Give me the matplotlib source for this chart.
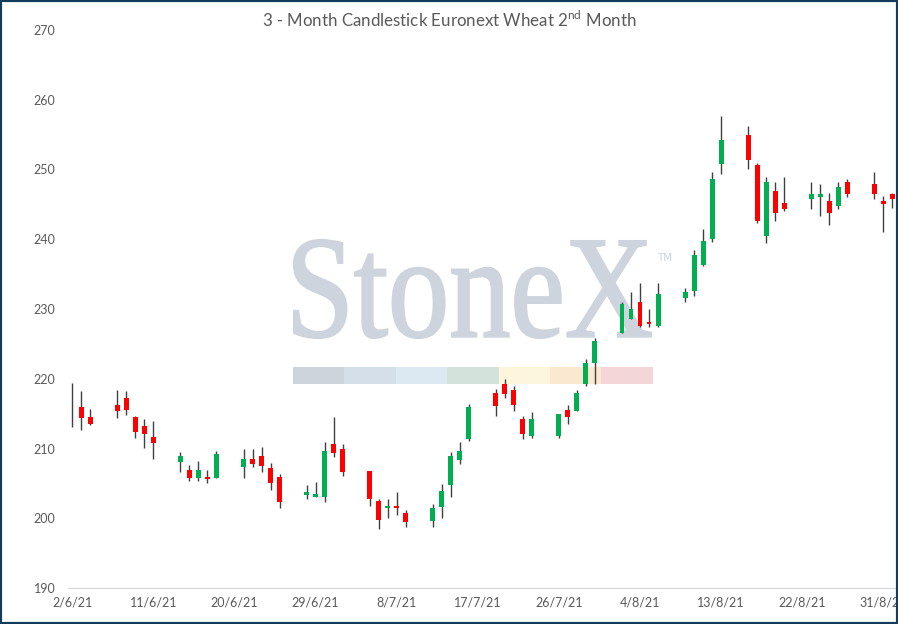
import matplotlib
matplotlib.use('Agg')
import matplotlib.pyplot as plt
import matplotlib.dates as mdates
import numpy as np
import pandas as pd
from matplotlib.textpath import TextPath
from matplotlib.font_manager import FontProperties
from matplotlib.patches import PathPatch, Rectangle
from matplotlib.transforms import Affine2D
from matplotlib.path import Path

plt.rcParams['font.family'] = ['Lato', 'DejaVu Sans']
plt.rcParams['mathtext.fontset'] = 'custom'
plt.rcParams['mathtext.rm'] = 'Lato'

# daily OHLC
dates = ['2021-06-02', '2021-06-03', '2021-06-04', '2021-06-07', '2021-06-08', '2021-06-09',
         '2021-06-10', '2021-06-11', '2021-06-14', '2021-06-15', '2021-06-16', '2021-06-17',
         '2021-06-18', '2021-06-21', '2021-06-22', '2021-06-23', '2021-06-24', '2021-06-25',
         '2021-06-28', '2021-06-29', '2021-06-30', '2021-07-01', '2021-07-02', '2021-07-05',
         '2021-07-06', '2021-07-07', '2021-07-08', '2021-07-09', '2021-07-12', '2021-07-13',
         '2021-07-14', '2021-07-15', '2021-07-16', '2021-07-19', '2021-07-20', '2021-07-21',
         '2021-07-22', '2021-07-23', '2021-07-26', '2021-07-27', '2021-07-28', '2021-07-29',
         '2021-07-30', '2021-08-02', '2021-08-03', '2021-08-04', '2021-08-05', '2021-08-06',
         '2021-08-09', '2021-08-10', '2021-08-11', '2021-08-12', '2021-08-13', '2021-08-16',
         '2021-08-17', '2021-08-18', '2021-08-19', '2021-08-20', '2021-08-23', '2021-08-24',
         '2021-08-25', '2021-08-26', '2021-08-27', '2021-08-30', '2021-08-31', '2021-09-01']
opens = [216.5, 216.0, 214.5, 216.2, 217.2, 214.5, 213.2, 211.65, 208.1, 206.9, 205.8, 205.9,
         205.8, 207.4, 208.5, 208.9, 207.2, 205.9, 203.4, 203.1, 203.1, 210.65, 209.9, 206.8,
         202.5, 201.4, 201.8, 200.7, 199.65, 201.65, 204.8, 208.4, 211.4, 218.0, 219.2, 218.4,
         214.2, 211.8, 211.8, 215.5, 215.4, 219.3, 222.3, 226.6, 228.6, 231.0, 228.2, 227.6,
         231.6, 232.6, 236.3, 240.1, 250.8, 254.95, 250.6, 240.4, 246.9, 245.2, 245.8, 246.1,
         245.5, 244.8, 248.2, 247.9, 245.5, 246.5]
highs = [219.35, 218.2, 215.6, 218.4, 218.25, 214.66, 214.2, 213.9, 209.45, 207.6, 208.2, 206.9,
         209.6, 209.9, 209.9, 210.2, 207.9, 206.4, 204.7, 205.15, 210.9, 214.5, 210.6, 206.8,
         202.7, 202.7, 203.7, 201.2, 202.1, 204.9, 209.45, 210.9, 216.4, 218.6, 219.9, 219.0,
         214.66, 215.2, 215.0, 216.3, 218.4, 222.9, 225.9, 231.05, 232.4, 233.7, 229.95, 233.7,
         233.0, 238.5, 241.5, 249.6, 257.7, 256.2, 250.9, 248.9, 248.2, 248.9, 248.2, 247.9,
         246.6, 248.2, 248.6, 249.6, 246.2, 246.6]
lows = [213.1, 212.6, 213.4, 214.4, 214.8, 211.55, 210.1, 208.5, 206.7, 205.4, 205.4, 205.1,
        205.8, 205.8, 207.4, 206.7, 204.1, 201.4, 202.8, 203.0, 202.4, 208.8, 206.1, 201.8,
        198.4, 200.1, 200.4, 198.8, 198.8, 200.1, 203.1, 207.8, 211.1, 214.6, 217.3, 215.4,
        211.4, 211.55, 211.5, 213.55, 215.4, 218.9, 219.3, 226.6, 228.6, 227.4, 227.4, 227.4,
        231.05, 231.9, 236.1, 239.65, 249.4, 250.1, 242.4, 239.4, 242.65, 244.1, 244.4, 243.4,
        242.1, 244.4, 246.1, 245.8, 241.1, 244.5]
closes = [216.5, 214.4, 213.55, 215.4, 215.5, 212.4, 212.1, 210.8, 208.9, 205.8, 206.9, 205.6,
          209.2, 208.5, 207.8, 207.5, 205.1, 202.4, 203.8, 203.5, 209.6, 209.4, 206.7, 202.8,
          199.8, 201.8, 201.5, 199.4, 201.5, 203.9, 208.9, 209.6, 215.95, 216.1, 217.85, 216.3,
          212.1, 214.2, 214.95, 214.55, 218.0, 222.26, 225.45, 230.7, 230.0, 227.6, 227.9, 232.15,
          232.4, 237.74, 239.7, 248.6, 254.2, 251.4, 242.65, 248.2, 243.7, 244.4, 246.5, 246.5,
          243.8, 247.5, 246.5, 246.5, 245.1, 245.8]

y_ticks = [190, 200, 210, 220, 230, 240, 250, 260, 270]

W, H = 898, 624
fig = plt.figure(figsize=(W / 100, H / 100), dpi=100)
fig.patch.set_facecolor('white')

# axes placed in pixels: left 67.8, right 898, y 190 at 588 and 270 at 30
ax = fig.add_axes([67.8 / W, (H - 588) / H, (W - 67.8) / W, 558 / H])
ax.set_facecolor('none')

tr_px = Affine2D().scale(1 / W, 1 / H) + fig.transFigure

# StoneX watermark behind the candles
wm_col = '#cdd4dd'
tp = TextPath((0, 0), 'StoneX', size=100, prop=FontProperties(family='Liberation Serif'))
ext = tp.get_extents()
sx = (651 - 294) / ext.width
sy = (338 - 240) / ext.height
verts = tp.vertices.copy()
verts[:, 0] = 294 + (verts[:, 0] - ext.x0) * sx
verts[:, 1] = (H - 338) + (verts[:, 1] - ext.y0) * sy
wm_path = Path(verts, tp.codes)
fig.add_artist(PathPatch(wm_path, facecolor=wm_col, edgecolor=wm_col, lw=1.6,
                         transform=tr_px, zorder=-5))
fig.text(657 / W, 1 - 261 / H, 'TM', fontsize=7.5, color=wm_col, zorder=-5, family='DejaVu Sans')

strip_cols = ['#ced4dc', '#d5dfe9', '#dde9f2', '#d3e2da', '#fbf6dc', '#fbe8d0', '#f2d6d8']
edges = np.linspace(293, 652.7, len(strip_cols) + 1)
for i, col in enumerate(strip_cols):
    fig.add_artist(Rectangle((edges[i], H - 384), edges[i + 1] - edges[i], 17,
                             facecolor=col, edgecolor='none', transform=tr_px, zorder=-5))

# candles
x = mdates.date2num(pd.to_datetime(dates))
o = np.array(opens)
c = np.array(closes)
colors = ['#00b050' if cc >= oo else '#ff0000' for oo, cc in zip(o, c)]
ax.vlines(x, lows, highs, color='#404040', lw=1.0, zorder=2)
ax.bar(x, c - o, bottom=o, width=0.55, color=colors, zorder=3)

d0 = x[0]
ax.set_xlim(d0 - 0.5, d0 + 91.63)
ax.set_ylim(190, 270)

tick_dates = pd.date_range('2021-06-02', periods=11, freq='9D')
ax.set_xticks(mdates.date2num(tick_dates))
ax.set_xticklabels([f'{d.day}/{d.month}/{d:%y}' for d in tick_dates])
ax.set_yticks(y_ticks)
ax.set_yticklabels([str(v) for v in y_ticks])
ax.tick_params(axis='both', length=0, labelsize=9, labelcolor='#595959')
ax.tick_params(axis='x', pad=6)
ax.tick_params(axis='y', pad=9)

for s in ['top', 'right', 'left']:
    ax.spines[s].set_visible(False)
ax.spines['bottom'].set_color('#d9d9d9')
ax.spines['bottom'].set_linewidth(0.9)

fig.text(449 / W, 1 - 27.3 / H, r'3 - Month Candlestick Euronext Wheat 2$^{\mathrm{nd}}$ Month',
         ha='center', va='baseline', fontsize=12.2, color='#595959')

# dark frame round the whole chart
fig.add_artist(Rectangle((0, 0), 1, 1, transform=fig.transFigure, fill=False,
                         edgecolor='#123c5c', lw=3, zorder=10))

fig.savefig('out.png', dpi=100)
